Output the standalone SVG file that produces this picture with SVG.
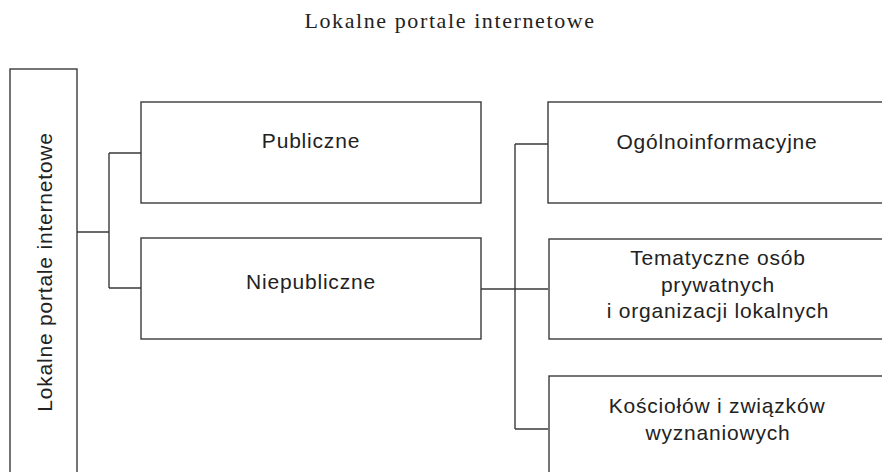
<svg xmlns="http://www.w3.org/2000/svg" width="882" height="472" viewBox="0 0 882 472">
<style>
.box{fill:#fff;stroke:#3a3a3a;stroke-width:1.4}
.con{fill:none;stroke:#3a3a3a;stroke-width:1.4}
.lbl{font-family:"Liberation Sans",Arial,sans-serif;font-size:21px;letter-spacing:0.8px;fill:#222;text-anchor:middle}
.title{font-family:"Liberation Serif","Times New Roman",serif;font-size:22px;letter-spacing:1.6px;fill:#222;text-anchor:middle}
</style>
<rect width="882" height="472" fill="#fff"/>
<text class="title" x="450" y="28">Lokalne portale internetowe</text>
<g id="connectors">
<path class="con" d="M77 232H109M109 153V288M109 153H141M109 288H141"/>
<path class="con" d="M481 289H548M515 144V429M515 144H548M515 429H548"/>
</g>
<g id="root">
<rect class="box" x="10" y="69" width="67" height="420"/>
<text class="lbl" transform="translate(52,272) rotate(-90)">Lokalne portale internetowe</text>
</g>
<g id="publiczne">
<rect class="box" x="141" y="102" width="340" height="101"/>
<text class="lbl" x="311" y="148">Publiczne</text>
</g>
<g id="niepubliczne">
<rect class="box" x="141" y="238" width="340" height="101"/>
<text class="lbl" x="311" y="289">Niepubliczne</text>
</g>
<g id="ogolno">
<rect class="box" x="548" y="102" width="345" height="101"/>
<text class="lbl" x="717" y="149">Ogólnoinformacyjne</text>
</g>
<g id="tematyczne">
<rect class="box" x="549" y="239" width="345" height="100"/>
<text class="lbl" x="718" y="265">Tematyczne osób</text>
<text class="lbl" x="718" y="292">prywatnych</text>
<text class="lbl" x="718" y="318">i organizacji lokalnych</text>
</g>
<g id="koscioly">
<rect class="box" x="549" y="376" width="345" height="110"/>
<text class="lbl" x="717" y="413">Kościołów i związków</text>
<text class="lbl" x="718" y="440">wyznaniowych</text>
</g>
</svg>
